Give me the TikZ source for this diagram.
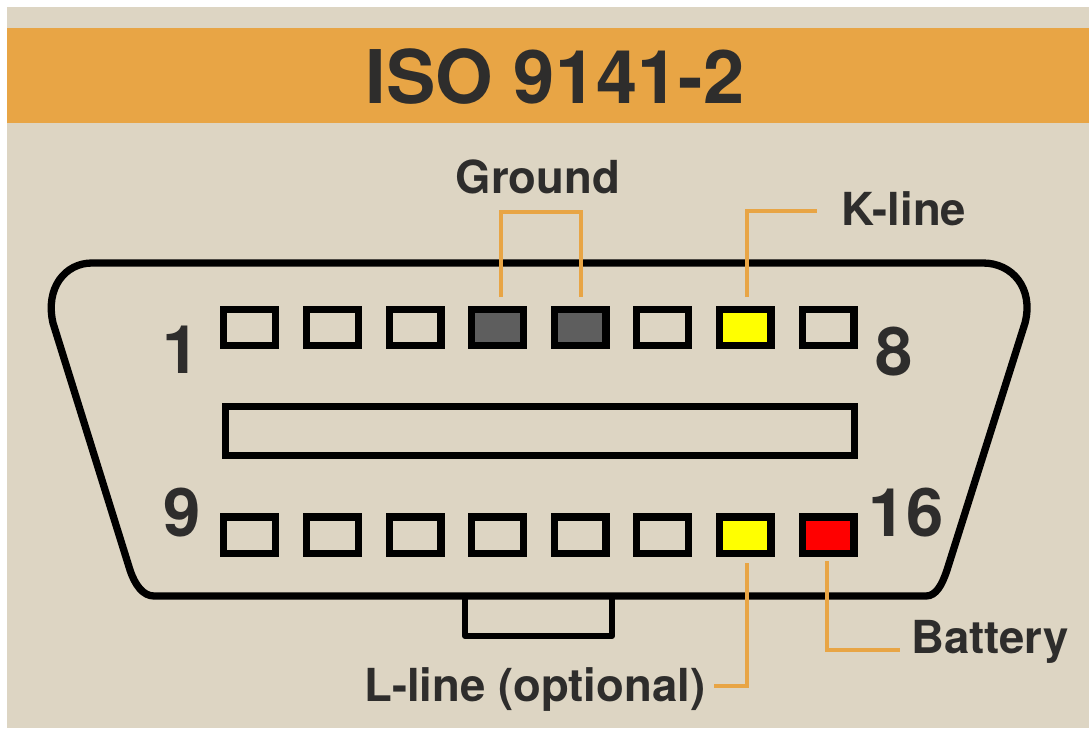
\documentclass[tikz,border=0pt]{standalone}
\usepackage{fontspec}
\setmainfont{TeX Gyre Heros}
\definecolor{bgc}{HTML}{DDD5C3}
\definecolor{orangec}{HTML}{E8A545}
\definecolor{textc}{HTML}{2E2D2C}
\definecolor{grayc}{HTML}{5E5E5E}
\definecolor{yellowc}{HTML}{FFFF00}
\definecolor{redc}{HTML}{FF0000}
\tikzset{
  pin/.style={draw=black,line width=7.2pt,fill=bgc,rectangle,minimum width=51.8pt,minimum height=36.2pt,inner sep=0pt,outer sep=0pt},
  lead/.style={draw=orangec,line width=4pt},
  lab/.style={font=\fontsize{45.5}{45.5}\selectfont\bfseries,text=textc,inner sep=0pt,anchor=base},
  num/.style={font=\fontsize{67}{67}\selectfont\bfseries,text=textc,inner sep=0pt,anchor=base},
  body/.style={draw=black,line width=7.3pt,line join=round},
}
\begin{document}
\begin{tikzpicture}[x=1pt,y=-1pt]
\useasboundingbox (0,0) rectangle (1089,728);
\fill[white] (0,0) rectangle (1089,728);
\fill[bgc] (7,7) rectangle (1089,728);
\fill[orangec] (7,28) rectangle (1089,123);
\node[font=\fontsize{74}{74}\selectfont\bfseries,text=textc,inner sep=0pt,anchor=base] (title) at (555,103) {ISO 9141-2};
% connector body
\draw[body] (92,263) -- (983,263)
  .. controls (1012,263) and (1034,288) .. (1025,323)
  -- (947,570)
  .. controls (942,585) and (936,596) .. (926,596)
  -- (154,596)
  .. controls (143,596) and (135,585) .. (130,570)
  -- (53,323)
  .. controls (45,288) and (65,263) .. (92,263) -- cycle;
\draw[body,line width=6pt] (465,598) -- (465,636) -- (612,636) -- (612,598);
\node[pin,line width=7pt,minimum width=629pt,minimum height=49pt] (slot) at (539.5,430.5) {};
% top row
\node[pin] (p1) at (249.5,327.5) {};
\node[pin] (p2) at (332.5,327.5) {};
\node[pin] (p3) at (415,327.5) {};
\node[pin,fill=grayc] (p4) at (497.5,327.5) {};
\node[pin,fill=grayc] (p5) at (580,327.5) {};
\node[pin] (p6) at (662.5,327.5) {};
\node[pin,fill=yellowc] (p7) at (745,327.5) {};
\node[pin] (p8) at (828,327.5) {};
% bottom row
\node[pin] (p9) at (249.5,535) {};
\node[pin] (p10) at (332.5,535) {};
\node[pin] (p11) at (415,535) {};
\node[pin] (p12) at (497.5,535) {};
\node[pin] (p13) at (580,535) {};
\node[pin] (p14) at (662.5,535) {};
\node[pin,fill=yellowc] (p15) at (745,535) {};
\node[pin,fill=redc] (p16) at (828,535) {};
% numbers
\node[num] (n1) at (181,373) {1};
\node[num] (n8) at (894,375) {8};
\node[num] (n9) at (182,536) {9};
\node[num] (n16) at (906,536) {16};
% labels
\node[lab] (ground) at (538,193) {Ground};
\node[lab] (kline) at (904,225) {K-line};
\node[lab] (battery) at (990,653) {Battery};
\node[lab] (lline) at (535,701) {L-line (optional)};
% leads
\coordinate (g4) at (501,297);
\coordinate (g5) at (581,297);
\coordinate (k7) at (747,297);
\coordinate (l15) at (747,563);
\coordinate (b16) at (827,561);
\coordinate (kend) at (817,211);
\coordinate (bend) at (900,650);
\coordinate (lend) at (714,686);
\draw[lead] (g4) |- (541,212) -| (g5);
\draw[lead] (k7) |- (kend);
\draw[lead] (l15) |- (lend);
\draw[lead] (b16) |- (bend);
\end{tikzpicture}
\end{document}
